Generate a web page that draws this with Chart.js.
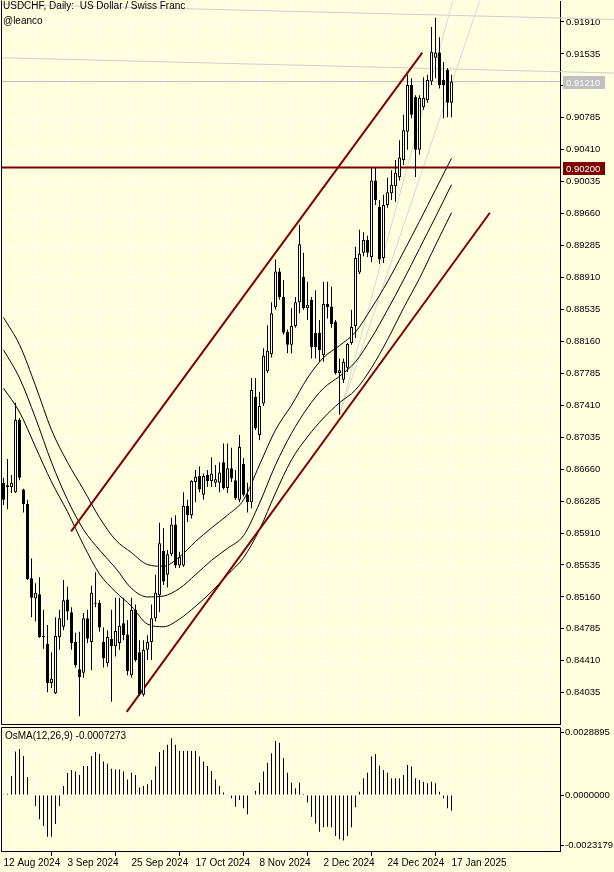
<!DOCTYPE html>
<html>
<head>
<meta charset="utf-8">
<title>USDCHF Daily</title>
<script src="https://cdn.jsdelivr.net/npm/chart.js@4.4.1/dist/chart.umd.min.js"></script>
<style>
  html, body { margin: 0; padding: 0; }
  body { width: 614px; height: 872px; position: relative; overflow: hidden; background: #ffffe0;
         font-family: "Liberation Sans", Arial, sans-serif; font-size: 10px; color: #000; }
  canvas { position: absolute; left: 0; }
  #mainChart { top: 0; }
  #osmaChart { top: 726px; }
  .txt { position: absolute; white-space: pre; line-height: 12px; }
</style>
</head>
<body>
<canvas id="mainChart" width="614" height="726"></canvas>
<canvas id="osmaChart" width="614" height="146"></canvas>
<div class="txt" style="left:3px;top:0px">USDCHF, Daily:  US Dollar / Swiss Franc</div>
<div class="txt" style="left:3px;top:15px">@leanco</div>
<div class="txt" style="left:5px;top:730px">OsMA(12,26,9) -0.0007273</div>
<script>
const BG = '#ffffe0';
const MAROON = '#800000';

// daily bars, 12 Aug 2024 .. 17 Jan 2025 (bar index 0..112)
const opens = [
  0.8650,0.8645,0.8645,0.8639,0.8724,0.8642,0.8625,0.8538,0.8514,0.8519,
  0.8469,0.8461,0.8415,0.8403,0.8469,0.8481,0.8513,0.8498,0.8463,0.8431,
  0.8427,0.8491,0.8463,0.8508,0.8509,0.8463,0.8438,0.8467,0.8458,0.8462,
  0.8485,0.8472,0.8424,0.8501,0.8451,0.8401,0.8454,0.8463,0.8491,0.8518,
  0.8570,0.8542,0.8566,0.8601,0.8553,0.8553,0.8623,0.8612,0.8651,0.8658,
  0.8636,0.8659,0.8652,0.8650,0.8650,0.8674,0.8644,0.8667,0.8653,0.8630,
  0.8672,0.8636,0.8627,0.8751,0.8706,0.8743,0.8781,0.8801,0.8856,0.8898,
  0.8868,0.8827,0.8812,0.8834,0.8862,0.8892,0.8855,0.8865,0.8826,0.8826,
  0.8800,0.8860,0.8857,0.8839,0.8779,0.8771,0.8785,0.8814,0.8834,0.8897,
  0.8920,0.8935,0.8915,0.9005,0.8974,0.8914,0.8976,0.8990,0.8998,0.9009,
  0.9029,0.9062,0.9117,0.9103,0.9041,0.9091,0.9099,0.9121,0.9149,0.9155,
  0.9123,0.9135,0.9096];
const highs = [
  0.8656,0.8678,0.8659,0.8744,0.8726,0.8643,0.8630,0.8561,0.8532,0.8539,
  0.8501,0.8483,0.8451,0.8492,0.8501,0.8536,0.8528,0.8504,0.8474,0.8475,
  0.8497,0.8501,0.8529,0.8545,0.8512,0.8480,0.8477,0.8501,0.8515,0.8515,
  0.8515,0.8489,0.8515,0.8507,0.8465,0.8465,0.8471,0.8507,0.8542,0.8603,
  0.8597,0.8571,0.8609,0.8612,0.8569,0.8639,0.8630,0.8653,0.8665,0.8669,
  0.8661,0.8665,0.8680,0.8671,0.8674,0.8696,0.8696,0.8691,0.8665,0.8706,
  0.8679,0.8650,0.8773,0.8773,0.8757,0.8808,0.8835,0.8862,0.8912,0.8902,
  0.8888,0.8830,0.8855,0.8868,0.8953,0.8920,0.8886,0.8868,0.8876,0.8841,
  0.8886,0.8886,0.8880,0.8841,0.8796,0.8796,0.8814,0.8853,0.8927,0.8947,
  0.8944,0.8940,0.9020,0.9020,0.8982,0.8988,0.9008,0.9017,0.9029,0.9052,
  0.9082,0.9129,0.9125,0.9105,0.9105,0.9126,0.9129,0.9185,0.9196,0.9173,
  0.9144,0.9137,0.9129];
const lows = [
  0.8624,0.8619,0.8638,0.8638,0.8653,0.8615,0.8536,0.8492,0.8487,0.8468,
  0.8455,0.8404,0.8409,0.8402,0.8454,0.8477,0.8489,0.8454,0.8433,0.8376,
  0.8421,0.8462,0.8430,0.8504,0.8475,0.8433,0.8434,0.8393,0.8446,0.8454,
  0.8465,0.8424,0.8421,0.8440,0.8400,0.8399,0.8442,0.8442,0.8487,0.8498,
  0.8530,0.8527,0.8564,0.8550,0.8550,0.8551,0.8604,0.8608,0.8627,0.8639,
  0.8630,0.8645,0.8645,0.8645,0.8639,0.8642,0.8638,0.8651,0.8630,0.8627,
  0.8634,0.8615,0.8620,0.8712,0.8700,0.8740,0.8779,0.8797,0.8853,0.8865,
  0.8824,0.8802,0.8802,0.8832,0.8849,0.8853,0.8841,0.8796,0.8796,0.8792,
  0.8792,0.8843,0.8832,0.8777,0.8730,0.8767,0.8780,0.8812,0.8820,0.8895,
  0.8916,0.8915,0.8909,0.8976,0.8907,0.8908,0.8973,0.8982,0.8980,0.9005,
  0.9023,0.9041,0.9078,0.9009,0.9035,0.9088,0.9096,0.9117,0.9125,0.9113,
  0.9078,0.9079,0.9079];
const closes = [
  0.8630,0.8647,0.8650,0.8724,0.8656,0.8625,0.8537,0.8515,0.8521,0.8469,
  0.8470,0.8415,0.8420,0.8470,0.8491,0.8512,0.8499,0.8462,0.8436,0.8422,
  0.8491,0.8467,0.8521,0.8509,0.8480,0.8444,0.8469,0.8458,0.8476,0.8482,
  0.8471,0.8429,0.8501,0.8442,0.8402,0.8454,0.8463,0.8491,0.8521,0.8579,
  0.8534,0.8566,0.8601,0.8553,0.8563,0.8623,0.8612,0.8652,0.8657,0.8642,
  0.8658,0.8652,0.8661,0.8654,0.8662,0.8644,0.8667,0.8655,0.8632,0.8692,
  0.8636,0.8627,0.8759,0.8714,0.8740,0.8799,0.8805,0.8849,0.8898,0.8868,
  0.8826,0.8812,0.8834,0.8862,0.8930,0.8855,0.8859,0.8809,0.8809,0.8806,
  0.8860,0.8856,0.8836,0.8779,0.8782,0.8792,0.8813,0.8833,0.8914,0.8919,
  0.8935,0.8920,0.9005,0.8982,0.8912,0.8976,0.8991,0.9000,0.9014,0.9032,
  0.9064,0.9117,0.9082,0.9041,0.9102,0.9102,0.9123,0.9156,0.9155,0.9117,
  0.9117,0.9096,0.9121];

// OsMA(12,26,9) histogram, one value per bar
const osma = [
  0.00003,0.00006,0.00088,0.00200,0.00212,0.00180,0.00083,-0.00002,-0.00051,-0.00112,
  -0.00143,-0.00192,-0.00192,-0.00134,-0.00051,0.00041,0.00103,0.00115,0.00108,0.00092,
  0.00134,0.00134,0.00180,0.00198,0.00189,0.00154,0.00144,0.00121,0.00118,0.00118,
  0.00108,0.00072,0.00103,0.00092,0.00035,0.00041,0.00049,0.00069,0.00131,0.00198,
  0.00207,0.00232,0.00261,0.00232,0.00203,0.00203,0.00203,0.00203,0.00203,0.00177,
  0.00154,0.00134,0.00111,0.00072,0.00041,0.00011,-0.00003,-0.00015,-0.00054,-0.00023,
  -0.00061,-0.00089,0.00002,0.00020,0.00057,0.00108,0.00149,0.00192,0.00249,0.00241,
  0.00169,0.00103,0.00057,0.00031,0.00057,0.00005,-0.00035,-0.00100,-0.00131,-0.00169,
  -0.00149,-0.00146,-0.00149,-0.00189,-0.00204,-0.00210,-0.00189,-0.00149,-0.00057,0.00015,
  0.00077,0.00103,0.00177,0.00189,0.00135,0.00115,0.00103,0.00077,0.00077,0.00077,
  0.00092,0.00138,0.00131,0.00077,0.00069,0.00061,0.00054,0.00061,0.00054,0.00015,
  -0.00015,-0.00061,-0.00073];

// envelope lines, read every 4 bars
const envIndex = [0,4,8,12,16,20,24,28,32,36,40,44,48,52,56,60,64,68,72,76,80,84,88,92,96,100,104,108,112];
const envUpper = [0.8844,0.8812,0.8764,0.8712,0.8674,0.8642,0.8609,0.8583,0.8568,0.8554,0.8552,0.8563,0.8581,0.8597,0.8612,
                  0.8630,0.8671,0.8712,0.8741,0.8773,0.8797,0.8811,0.8827,0.8855,0.8886,0.8921,0.8957,0.8994,0.9031];
const envMiddle = [0.8806,0.8773,0.8726,0.8674,0.8630,0.8595,0.8571,0.8550,0.8526,0.8516,0.8517,0.8526,0.8542,0.8559,0.8573,
                   0.8588,0.8626,0.8671,0.8708,0.8738,0.8761,0.8775,0.8792,0.8820,0.8853,0.8888,0.8925,0.8962,0.9000];
const envLower = [0.8761,0.8733,0.8692,0.8651,0.8616,0.8577,0.8543,0.8522,0.8505,0.8484,0.8481,0.8490,0.8505,0.8522,0.8542,
                  0.8562,0.8595,0.8638,0.8677,0.8704,0.8726,0.8744,0.8759,0.8785,0.8818,0.8855,0.8890,0.8929,0.8967];

// drawn objects (bar index, price)
const channelUpper = [{x: 16.9, y: 0.8593}, {x: 104.7, y: 0.9155}];
const channelLower = [{x: 30.8, y: 0.8381}, {x: 121.6, y: 0.8967}];
const fanLine1 = [{x: 84, y: 0.8730}, {x: 114.3, y: 0.9250}];
const fanLine2 = [{x: 84, y: 0.8730}, {x: 121.5, y: 0.9250}];
const greyLine1 = [{x: -0.9, y: 0.9212}, {x: 152.6, y: 0.9194}];
const greyLine2 = [{x: -0.9, y: 0.9149}, {x: 152.6, y: 0.9131}];
const supportLevel = 0.90200;
const lastPrice = 0.91210;

const yTicks = [0.91910,0.91535,0.91160,0.90785,0.90410,0.90035,0.89660,0.89285,0.88910,0.88535,0.88160,
                0.87785,0.87410,0.87035,0.86660,0.86285,0.85910,0.85535,0.85160,0.84785,0.84410,0.84035];
const osmaTicks = [0.0028895, 0, -0.0023179];
const dateBars = [0, 16, 32, 48, 64, 80, 96, 112];
const dateLabels = ['12 Aug 2024','3 Sep 2024','25 Sep 2024','17 Oct 2024','8 Nov 2024','2 Dec 2024','24 Dec 2024','17 Jan 2025'];
const gridBars = [0,8,16,24,32,40,48,56,64,72,80,88,96,104,112,120,128,136];

const X_MIN = -0.375, X_MAX = 139.125;
const PRICE_MIN = 0.83668, PRICE_MAX = 0.92156;
const OSMA_MIN = -0.0025806, OSMA_MAX = 0.0030876;

Chart.defaults.font.family = '"Liberation Sans", Arial, sans-serif';
Chart.defaults.font.size = 10;
Chart.defaults.color = '#000';
const axisFont = {size: 9.5};

// axes must not reserve extra room for half-labels at the ends
function fitY(s) { s.width = 54; s.paddingTop = 0; s.paddingBottom = 0; }
function fitX(s) { s.height = 21; s.paddingLeft = 0; s.paddingRight = 0; }

// dashed white grid + black frame, the way the terminal draws its panels
const panelGrid = {
  id: 'panelGrid',
  beforeDatasetsDraw(chart, args, opts) {
    const {ctx, chartArea: a, scales} = chart;
    ctx.save();
    ctx.strokeStyle = '#ffffff';
    ctx.lineWidth = 1;
    ctx.setLineDash([3, 3]);
    ctx.beginPath();
    gridBars.forEach(b => {
      const x = Math.floor(scales.x.getPixelForValue(b)) + 0.5;
      ctx.moveTo(x, a.top); ctx.lineTo(x, a.bottom);
    });
    opts.levels.forEach(v => {
      const y = Math.round(scales.y.getPixelForValue(v)) + 0.5;
      ctx.moveTo(a.left, y); ctx.lineTo(a.right, y);
    });
    ctx.stroke();
    ctx.restore();
  },
  afterDraw(chart, args, opts) {
    const {ctx, chartArea: a} = chart;
    ctx.save();
    ctx.strokeStyle = '#000';
    ctx.lineWidth = 1;
    ctx.beginPath();
    ctx.moveTo(a.left - 0.5, a.top - 0.5);
    ctx.lineTo(a.left - 0.5, a.bottom + 0.5);
    ctx.lineTo(a.right + 0.5, a.bottom + 0.5);
    if (opts.top) {
      ctx.moveTo(a.left - 0.5, a.top - 0.5);
      ctx.lineTo(a.right + 0.5, a.top - 0.5);
    }
    ctx.stroke();
    ctx.restore();
  }
};

const priceTags = {
  id: 'priceTags',
  afterDraw(chart) {
    const {ctx, chartArea: a, scales: {y}} = chart;
    ctx.save();
    [[lastPrice, '#c0c0c0'], [supportLevel, MAROON]].forEach(([v, col]) => {
      const py = Math.round(y.getPixelForValue(v));
      ctx.fillStyle = col;
      ctx.fillRect(a.right + 3, py - 6, 42, 13);
      ctx.fillStyle = '#fff';
      ctx.font = '9.5px "Liberation Sans", Arial, sans-serif';
      ctx.textBaseline = 'middle';
      ctx.textAlign = 'left';
      ctx.fillText(v.toFixed(5), a.right + 6, py + 1);
    });
    ctx.restore();
  }
};

function lineSet(points, color, width, order, extra) {
  return Object.assign({
    type: 'line', data: points, borderColor: color, borderWidth: width,
    pointRadius: 0, fill: false, order: order
  }, extra || {});
}

const envPoints = vals => envIndex.map((b, k) => ({x: b, y: vals[k]}));

new Chart(document.getElementById('mainChart'), {
  type: 'bar',
  data: {
    datasets: [
      lineSet(greyLine1, '#cdcdcd', 1, 10, {clip: {left: 0, top: 0, right: 60, bottom: 0}}),
      lineSet(greyLine2, '#cdcdcd', 1, 10, {clip: {left: 0, top: 0, right: 60, bottom: 0}}),
      lineSet([{x: X_MIN, y: lastPrice}, {x: X_MAX, y: lastPrice}], '#c0c0c0', 1, 10),
      lineSet(fanLine1, '#d6d6d6', 1, 9),
      lineSet(fanLine2, '#d6d6d6', 1, 9),
      lineSet(envPoints(envUpper), '#000', 1, 8, {cubicInterpolationMode: 'monotone'}),
      lineSet(envPoints(envMiddle), '#000', 1, 8, {cubicInterpolationMode: 'monotone'}),
      lineSet(envPoints(envLower), '#000', 1, 8, {cubicInterpolationMode: 'monotone'}),
      lineSet(channelUpper, MAROON, 2, 7),
      lineSet(channelLower, MAROON, 2, 7),
      lineSet([{x: X_MIN, y: supportLevel}, {x: X_MAX, y: supportLevel}], MAROON, 2, 7),
      {
        // wicks
        data: opens.map((o, i) => ({x: i, y: [lows[i], highs[i]]})),
        backgroundColor: '#000', borderWidth: 0, barThickness: 1,
        grouped: false, inflateAmount: 0, order: 2
      },
      {
        // bodies
        data: opens.map((o, i) => ({x: i, y: [o, closes[i]]})),
        backgroundColor: opens.map((o, i) => closes[i] >= o ? BG : '#000'),
        borderColor: '#000', borderWidth: 1, borderSkipped: false,
        barThickness: 3, grouped: false, inflateAmount: 0, order: 1
      }
    ]
  },
  options: {
    responsive: false,
    animation: false,
    events: [],
    layout: {padding: {left: 2, top: 1, right: 0, bottom: 2}},
    plugins: {
      legend: {display: false},
      tooltip: {enabled: false},
      panelGrid: {levels: yTicks, top: false}
    },
    scales: {
      x: {type: 'linear', min: X_MIN, max: X_MAX, offset: false, display: false},
      y: {
        position: 'right', min: PRICE_MIN, max: PRICE_MAX, beginAtZero: false,
        afterFit: fitY,
        afterBuildTicks: s => { s.ticks = yTicks.map(v => ({value: v})); },
        ticks: {callback: v => v.toFixed(5), padding: 2, font: axisFont},
        grid: {drawOnChartArea: false, tickLength: 4, tickColor: '#000'},
        border: {display: true, color: '#000'}
      }
    }
  },
  plugins: [panelGrid, priceTags]
});

new Chart(document.getElementById('osmaChart'), {
  type: 'bar',
  data: {
    datasets: [{
      data: osma.map((v, i) => ({x: i, y: v})),
      backgroundColor: '#000', borderWidth: 0, barThickness: 1, inflateAmount: 0
    }]
  },
  options: {
    responsive: false,
    animation: false,
    events: [],
    layout: {padding: {left: 2, top: 2, right: 0, bottom: 0}},
    plugins: {
      legend: {display: false},
      tooltip: {enabled: false},
      panelGrid: {levels: [0], top: true}
    },
    scales: {
      x: {
        type: 'linear', min: X_MIN, max: X_MAX, offset: false,
        afterFit: fitX,
        afterBuildTicks: s => { s.ticks = gridBars.map(v => ({value: v})); },
        ticks: {
          align: 'start', maxRotation: 0, autoSkip: false, padding: 1,
          callback: v => { const k = dateBars.indexOf(v); return k >= 0 ? dateLabels[k] : ''; }
        },
        grid: {
          drawOnChartArea: false, tickLength: 5,
          tickColor: c => (c.tick && dateBars.includes(c.tick.value)) ? '#000' : 'rgba(0,0,0,0)'
        },
        border: {display: true, color: '#000'}
      },
      y: {
        position: 'right', min: OSMA_MIN, max: OSMA_MAX, beginAtZero: false,
        afterFit: fitY,
        afterBuildTicks: s => { s.ticks = osmaTicks.map(v => ({value: v})); },
        ticks: {callback: v => v.toFixed(7), padding: 1, font: axisFont},
        grid: {drawOnChartArea: false, tickLength: 4, tickColor: '#000'},
        border: {display: true, color: '#000'}
      }
    }
  },
  plugins: [panelGrid]
});
</script>
</body>
</html>
